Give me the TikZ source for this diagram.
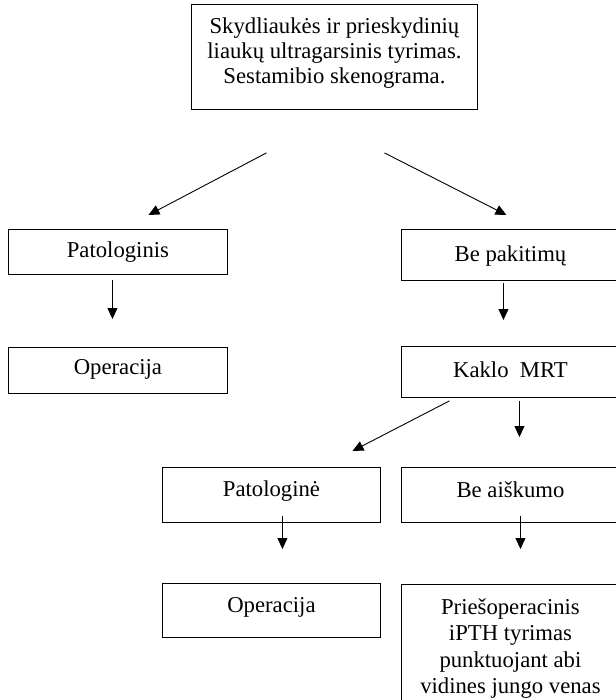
\documentclass[tikz,border=0pt]{standalone}
\usepackage{fontspec}
\setmainfont{Liberation Serif}
\usetikzlibrary{arrows.meta,calc}
\tikzset{
  box/.style={draw, line width=0.9pt, anchor=north west, inner xsep=0pt, inner ysep=0pt},
  arr/.style={line width=0.9pt, -{Triangle[length=11pt,width=10pt]}},
}
\newcommand{\boxtext}[3]{\parbox[t]{#1pt}{\centering\fontsize{22.7}{#2}\selectfont #3}}
\begin{document}
\begin{tikzpicture}[x=1pt,y=-1pt]
\useasboundingbox[fill=white] (0,0) rectangle (615,700);
\node[box, minimum width=286pt, text height=29pt, text depth=76pt] (top) at (191,4)
  {\boxtext{286}{25}{Skydliaukės ir prieskydinių\\liaukų ultragarsinis tyrimas.\\Sestamibio skenograma.}};
\node[box, minimum width=219pt, text height=28pt, text depth=17pt] (patis) at (8,229)
  {\boxtext{219}{29}{Patologinis}};
\node[box, minimum width=218pt, text height=32pt, text depth=19pt] (bepak) at (401,229)
  {\boxtext{218}{29}{Be pakitimų}};
\node[box, minimum width=219pt, text height=27pt, text depth=19pt] (oper1) at (8,347)
  {\boxtext{219}{29}{Operacija}};
\node[box, minimum width=218pt, text height=31pt, text depth=20pt] (kaklo) at (401,346)
  {\boxtext{218}{29}{Kaklo\ \ MRT}};
\node[box, minimum width=218pt, text height=29pt, text depth=26pt] (patine) at (162,467)
  {\boxtext{218}{29}{Patologinė}};
\node[box, minimum width=218pt, text height=30pt, text depth=25pt] (beaisk) at (401,467)
  {\boxtext{218}{29}{Be aiškumo}};
\node[box, minimum width=218pt, text height=29pt, text depth=25pt] (oper2) at (162,583)
  {\boxtext{218}{29}{Operacija}};
\node[box, minimum width=218pt, text height=30pt, text depth=110pt] (pries) at (401,584)
  {\boxtext{218}{26.3}{Priešoperacinis\\iPTH tyrimas\\punktuojant abi\\vidines jungo venas}};

\draw[arr] ($(top.south)+(-68,43)$) -- ($(patis.north)+(30.5,-14)$);
\draw[arr] ($(top.south)+(50,43)$) -- ($(bepak.north)+(-4,-14)$);
\draw[arr] ($(patis.south)+(-5.5,5)$) -- ($(oper1.north)+(-5.5,-28)$);
\draw[arr] ($(bepak.south)+(-7,2)$) -- ($(kaklo.north)+(-7,-26)$);
\draw[arr] ($(kaklo.south)+(-61,3)$) -- ($(patine.north)+(81,-16)$);
\draw[arr] ($(kaklo.south)+(9,3)$) -- ($(beaisk.north)+(9,-30)$);
\draw[arr] ($(patine.south)+(11,-7)$) -- ($(oper2.north)+(11,-34)$);
\draw[arr] ($(beaisk.south)+(10,-7)$) -- ($(pries.north)+(10,-35)$);
\end{tikzpicture}
\end{document}
